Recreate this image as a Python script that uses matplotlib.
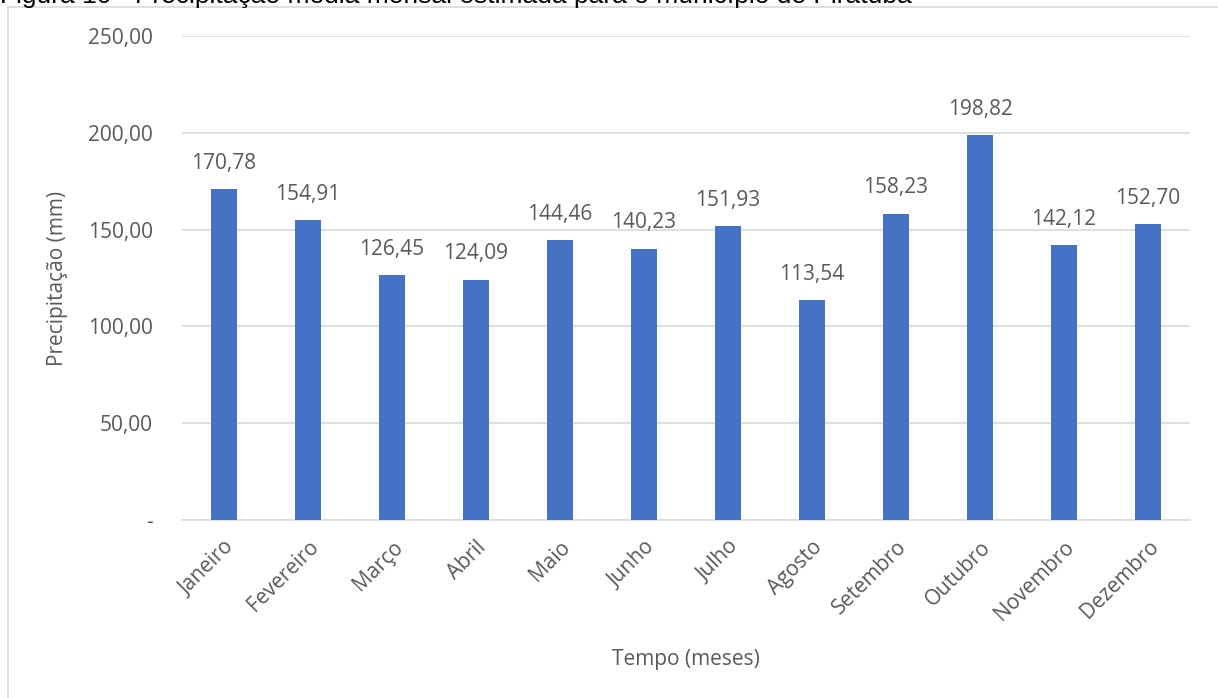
import numpy as np
import matplotlib
matplotlib.use('Agg')
import matplotlib.pyplot as plt
from matplotlib.patches import Rectangle
from matplotlib.ticker import FuncFormatter

meses = ['Janeiro', 'Fevereiro', 'Março', 'Abril', 'Maio', 'Junho',
         'Julho', 'Agosto', 'Setembro', 'Outubro', 'Novembro', 'Dezembro']
precipitacao = [170.78, 154.91, 126.45, 124.09, 144.46, 140.23,
                151.93, 113.54, 158.23, 198.82, 142.12, 152.70]
y_ticks = [0, 50, 100, 150, 200, 250]

titulo = 'Figura 10 - Precipitação média mensal estimada para o município de Piratuba'

text_color = '#595959'
plt.rcParams['font.family'] = ['Open Sans', 'DejaVu Sans']


def fmt_br(v, pos=None):
    if v == 0:
        return '-'
    return f'{v:.2f}'.replace('.', ',')


fig = plt.figure(figsize=(12.18, 6.98), dpi=100)
fig.set_facecolor('white')

# chart frame (light grey border like the spreadsheet chart area)
fig.patches.append(Rectangle((8 / 1218, -0.05), 1.1, 1 - 7 / 698 + 0.05,
                             transform=fig.transFigure, fill=False,
                             edgecolor='#D9D9D9', linewidth=1.2))

# caption, cut off at the top as in the original screenshot
fig.text(0.0, 1 - 3 / 698, titulo, family='Liberation Sans', fontsize=19,
         color='black', ha='left', va='baseline')

ax = fig.add_axes([182 / 1218, 1 - 520 / 698, (1190 - 182) / 1218, (520 - 36) / 698])

x = np.arange(len(meses))
bars = ax.bar(x, precipitacao, width=0.318, color='#4472C4', zorder=3)

for xi, v in zip(x, precipitacao):
    ax.annotate(fmt_br(v), (xi, v), xytext=(0, 11), textcoords='offset points',
                ha='center', va='bottom', fontsize=15, color=text_color)

ax.set_xlim(-0.5, len(meses) - 0.5)
ax.set_ylim(0, 250)
ax.set_yticks(y_ticks)
ax.yaxis.set_major_formatter(FuncFormatter(fmt_br))
ax.grid(axis='y', color='#D9D9D9', linewidth=1.2, zorder=0)

ax.set_xticks(x)
ax.set_xticklabels(meses, rotation=45, ha='right', rotation_mode='anchor')

for s in ['top', 'right', 'left']:
    ax.spines[s].set_visible(False)
ax.spines['bottom'].set_color('#D9D9D9')
ax.spines['bottom'].set_linewidth(1.2)

ax.tick_params(axis='both', length=0, labelsize=15, labelcolor=text_color)
ax.tick_params(axis='y', pad=21)
ax.tick_params(axis='x', pad=12)

ax.set_xlabel('Tempo (meses)', fontsize=15, color=text_color, labelpad=18)
ax.set_ylabel('Precipitação (mm)', fontsize=15, color=text_color, labelpad=14)

fig.savefig('out.png', dpi=100, facecolor='white')
